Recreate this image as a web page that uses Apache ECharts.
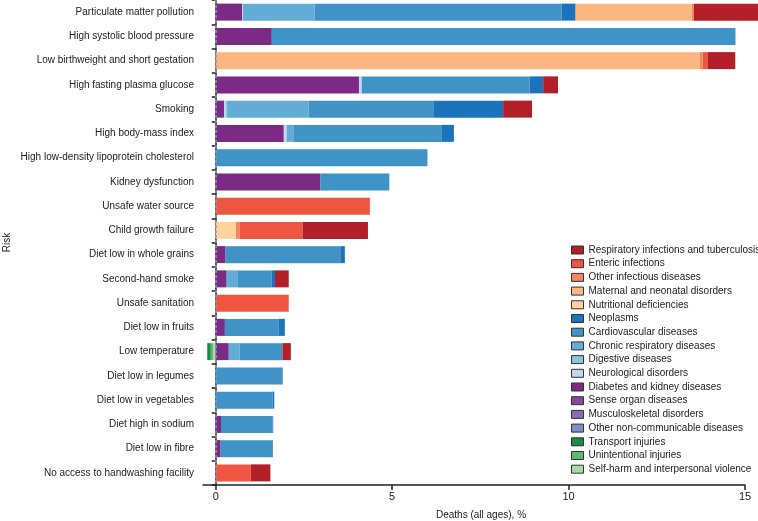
<!DOCTYPE html>
<html>
<head>
<meta charset="utf-8">
<script src="https://cdn.jsdelivr.net/npm/echarts@6/dist/echarts.min.js"></script>
<style>
html,body{margin:0;padding:0;background:#fff;}
#chart{width:758px;height:521px;}
</style>
</head>
<body>
<div id="chart"></div>
<script>
var FONT = '"Liberation Sans", Arial, sans-serif';
var FS = 10;

var categories = [
  'Particulate matter pollution','High systolic blood pressure','Low birthweight and short gestation',
  'High fasting plasma glucose','Smoking','High body-mass index','High low-density lipoprotein cholesterol',
  'Kidney dysfunction','Unsafe water source','Child growth failure','Diet low in whole grains',
  'Second-hand smoke','Unsafe sanitation','Diet low in fruits','Low temperature','Diet low in legumes',
  'Diet low in vegetables','Diet high in sodium','Diet low in fibre','No access to handwashing facility'
];

var causeNames = [
  'Respiratory infections and tuberculosis','Enteric infections','Other infectious diseases',
  'Maternal and neonatal disorders','Nutritional deficiencies','Neoplasms','Cardiovascular diseases',
  'Chronic respiratory diseases','Digestive diseases','Neurological disorders','Diabetes and kidney diseases',
  'Sense organ diseases','Musculoskeletal disorders','Other non-communicable diseases','Transport injuries',
  'Unintentional injuries','Self-harm and interpersonal violence'
];

var causeColors = [
  '#b31f28','#ee5641','#f3865f','#fcb682','#fed39c','#1b74bb','#3f93c6','#62acd6','#8cc4de','#bed9ee',
  '#7b2a86','#8a47a0','#8c6bb5','#7f8ec6','#1c8a47','#5cba72','#a8dbaa'
];

// values: deaths (all ages), %, one entry per risk (same order as categories)
var respiratory  = [1.90,0,0.79,0.42,0.82,0,0,0,0,1.85,0,0.39,0,0,0.24,0,0,0,0,0.56];
var enteric      = [0,0,0.13,0,0,0,0,0,4.37,1.78,0,0,2.07,0,0,0,0,0,0,0.99];
var otherInf     = [0.05,0,0.085,0,0,0,0,0,0,0.11,0,0,0,0,0,0,0,0,0,0];
var maternal     = [3.30,0,13.72,0,0,0,0,0,0,0,0,0,0,0,0,0,0,0,0,0];
var nutritional  = [0,0,0,0,0,0,0,0,0,0.575,0,0,0,0,0,0,0,0,0,0];
var neoplasms    = [0.40,0,0,0.38,1.96,0.34,0,0,0,0,0.11,0.10,0,0.17,0,0,0.05,0.02,0.02,0];
var cardio       = [7.00,13.14,0,4.76,3.55,4.21,6.00,1.95,0,0,3.27,0.95,0,1.53,1.21,1.90,1.61,1.46,1.46,0];
var chronicResp  = [2.03,0,0,0,2.31,0.19,0,0,0,0,0,0.32,0,0,0.31,0,0,0,0,0];
var digestive    = [0,0,0,0,0.04,0,0,0,0,0,0,0,0,0,0,0,0,0,0,0];
var neurological = [0.02,0,0,0.08,0.05,0.08,0,0,0,0,0,0,0,0,0,0,0,0,0,0];
var diabetes     = [0.75,1.59,0,4.06,0.235,1.93,0,2.97,0,0,0.28,0.31,0,0.26,0.37,0,0,0.15,0.14,0];
var senseOrgan   = [0,0,0,0,0,0,0,0,0,0,0,0,0,0,0,0,0,0,0,0];
var musculo      = [0,0,0,0,0,0,0,0,0,0,0,0,0,0,0,0,0,0,0,0];
var otherNCD     = [0,0,0,0,0,0,0,0,0,0,0,0,0,0,0,0,0,0,0,0];
var transport    = [0,0,0,0,0,0,0,0,0,0,0,0,0,0,-0.10,0,0,0,0,0];
var unintentional= [0,0,0,0,0,0,0,0,0,0,0,0,0,0,-0.065,0,0,0,0,0];
var selfHarm     = [0,0,0,0,0,0,0,0,0,0,0,0,0,0,-0.075,0,0,0,0,0];

var xTicks = [0, 5, 10, 15];

var causeValues = [respiratory,enteric,otherInf,maternal,nutritional,neoplasms,cardio,chronicResp,
  digestive,neurological,diabetes,senseOrgan,musculo,otherNCD,transport,unintentional,selfHarm];

var series = [];
for (var i = causeNames.length - 1; i >= 0; i--) {
  series.push({
    name: causeNames[i],
    type: 'bar',
    stack: 'total',
    barWidth: 17,
    clip: false,
    data: causeValues[i],
    itemStyle: { color: causeColors[i] },
    emphasis: { disabled: true }
  });
}
series[series.length - 1].markLine = {
  silent: true,
  symbol: 'none',
  label: { show: false },
  lineStyle: { type: [3, 2], color: '#8a9cb0', width: 1.5 },
  data: [{ xAxis: 0 }],
  z: 10
};

var chart = echarts.init(document.getElementById('chart'));
chart.setOption({
  animation: false,
  textStyle: { fontFamily: FONT },
  grid: { left: 203, right: 13, top: 0, bottom: 36, containLabel: false, outerBoundsMode: 'none' },
  legend: {
    orient: 'vertical',
    left: 571,
    top: 244,
    padding: 0,
    data: causeNames,
    itemWidth: 12,
    itemHeight: 8,
    itemGap: 1.7,
    icon: 'rect',
    selectedMode: false,
    itemStyle: { borderColor: '#333', borderWidth: 1 },
    textStyle: { fontFamily: FONT, fontSize: FS, color: '#222', lineHeight: 12 }
  },
  xAxis: {
    type: 'value',
    min: -0.36,
    max: 15,
    name: 'Deaths (all ages), %',
    nameLocation: 'middle',
    nameGap: 25,
    nameMoveOverlap: false,
    nameTextStyle: { fontFamily: FONT, fontSize: FS, color: '#222', padding: [0,0,0,14] },
    splitLine: { show: false },
    axisLine: { show: true, lineStyle: { color: '#222', width: 1.5 } },
    axisTick: { show: true, length: 5, lineStyle: { color: '#222', width: 1.5 }, customValues: xTicks },
    axisLabel: { fontFamily: FONT, fontSize: FS + 1, color: '#222', margin: 6, customValues: xTicks }
  },
  yAxis: {
    type: 'category',
    data: categories,
    inverse: true,
    name: 'Risk',
    nameLocation: 'middle',
    nameRotate: 90,
    nameGap: 191,
    nameMoveOverlap: false,
    nameTextStyle: { fontFamily: FONT, fontSize: FS, color: '#222' },
    axisLine: { show: true, lineStyle: { color: '#222', width: 1.5 } },
    axisTick: { show: true, length: 4, lineStyle: { color: '#222', width: 1.5 } },
    axisLabel: { fontFamily: FONT, fontSize: FS, color: '#222', margin: 9 }
  },
  series: series
});
</script>
</body>
</html>
